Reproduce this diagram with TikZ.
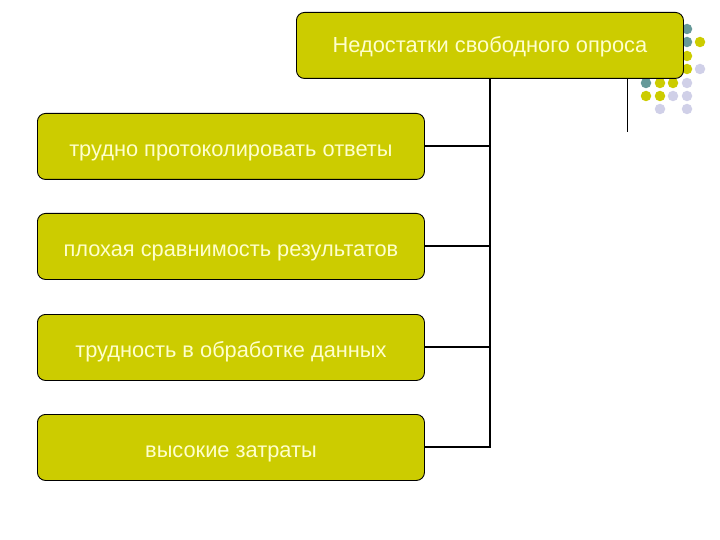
\documentclass[tikz,border=0pt]{standalone}
\usepackage{fontspec}
\setmainfont{Liberation Sans}
\definecolor{boxfill}{RGB}{204,204,0}
\definecolor{boxtext}{RGB}{255,255,204}
\definecolor{dotteal}{RGB}{102,153,153}
\definecolor{dotyellow}{RGB}{204,204,0}
\definecolor{dotlav}{RGB}{208,208,232}
\newcommand{\lowtext}[2]{\raisebox{-#1}[0pt][0pt]{#2}}
\begin{document}
\begin{tikzpicture}[x=1pt,y=-1pt,
  itembox/.style={draw=black, line width=0.9pt, fill=boxfill, rounded corners=8pt,
    minimum width=387pt, minimum height=66pt, inner sep=0pt, text=boxtext,
    font=\fontsize{21.8}{24}\selectfont, anchor=north west},
  conn/.style={draw=black, line width=2pt},
  thinline/.style={draw=black, line width=1pt},
  dot/.style={circle, inner sep=0pt, minimum size=10.5pt, fill=#1}]
\useasboundingbox (0,0) rectangle (720,540);
% decorative dots
\node[dot=dotteal] (d1) at (687,29) {};
\node[dot=dotteal] (d2) at (687,42) {};
\node[dot=dotyellow] (d3) at (700,42) {};
\node[dot=dotyellow] (d4) at (687,56) {};
\node[dot=dotyellow] (d5) at (687,69) {};
\node[dot=dotlav] (d6) at (700,69) {};
\node[dot=dotteal] (d7) at (646,83) {};
\node[dot=dotyellow] (d8) at (660,83) {};
\node[dot=dotyellow] (d9) at (673,83) {};
\node[dot=dotlav] (d10) at (687,83) {};
\node[dot=dotyellow] (d11) at (646,96) {};
\node[dot=dotyellow] (d12) at (660,96) {};
\node[dot=dotlav] (d13) at (673,96) {};
\node[dot=dotlav] (d14) at (687,96) {};
\node[dot=dotlav] (d15) at (660,109) {};
\node[dot=dotlav] (d16) at (687,109) {};
% thin decorative line
\coordinate (tl1) at (627,78);
\coordinate (tl2) at (627,132);
\draw[thinline] (tl1) -- (tl2);
% boxes
\node[itembox] (top) at (296,12) {\lowtext{7.5pt}{Недостатки свободного опроса}};
\node[itembox] (b1) at (37,113) {\lowtext{10pt}{трудно протоколировать ответы}};
\node[itembox] (b2) at (37,213) {\lowtext{10pt}{плохая сравнимость результатов}};
\node[itembox] (b3) at (37,314) {\lowtext{10pt}{трудность в обработке данных}};
\node[itembox] (b4) at (37,414) {\lowtext{10pt}{высокие затраты}};
% connectors
\coordinate (spine) at (490,0);
\draw[conn] (top.south -| spine) -- (b4.east -| spine) -- (b4.east);
\draw[conn] (b1.east) -- (b1.east -| spine);
\draw[conn] (b2.east) -- (b2.east -| spine);
\draw[conn] (b3.east) -- (b3.east -| spine);
\end{tikzpicture}
\end{document}
